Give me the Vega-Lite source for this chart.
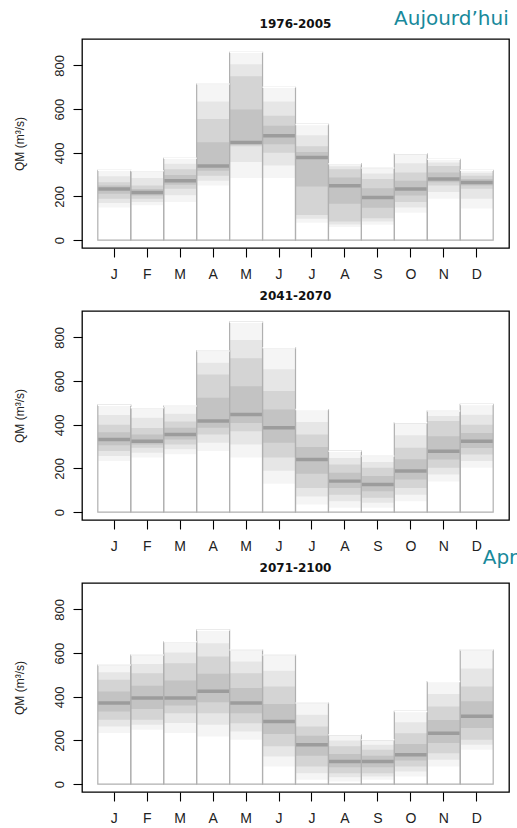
{
  "$schema": "https://vega.github.io/schema/vega-lite/v6.json",
  "padding": {"left": 12, "top": 8, "right": 0, "bottom": 0},
  "bounds": "flush",
  "spacing": 63,
  "datasets": {
    "qm": [
      {"period": "1976-2005", "month": "Jan", "lo": 150, "a1": 170, "q1": 190, "c1": 212, "m1": 226, "m2": 242, "c2": 250, "q3": 265, "a2": 292, "hi": 320},
      {"period": "1976-2005", "month": "Feb", "lo": 160, "a1": 175, "q1": 190, "c1": 204, "m1": 210, "m2": 226, "c2": 234, "q3": 250, "a2": 284, "hi": 318},
      {"period": "1976-2005", "month": "Mar", "lo": 175, "a1": 205, "q1": 235, "c1": 254, "m1": 264, "m2": 280, "c2": 298, "q3": 325, "a2": 350, "hi": 375},
      {"period": "1976-2005", "month": "Apr", "lo": 250, "a1": 272, "q1": 295, "c1": 318, "m1": 332, "m2": 348, "c2": 448, "q3": 555, "a2": 635, "hi": 715},
      {"period": "1976-2005", "month": "May", "lo": 285, "a1": 358, "q1": 430, "c1": 438, "m1": 439, "m2": 455, "c2": 598, "q3": 750, "a2": 805, "hi": 860},
      {"period": "1976-2005", "month": "Jun", "lo": 285, "a1": 342, "q1": 400, "c1": 439, "m1": 470, "m2": 486, "c2": 524, "q3": 570, "a2": 635, "hi": 700},
      {"period": "1976-2005", "month": "Jul", "lo": 80, "a1": 98, "q1": 115, "c1": 246, "m1": 370, "m2": 386, "c2": 404, "q3": 430, "a2": 480, "hi": 530},
      {"period": "1976-2005", "month": "Aug", "lo": 60, "a1": 72, "q1": 85, "c1": 167, "m1": 241, "m2": 257, "c2": 287, "q3": 325, "a2": 338, "hi": 350},
      {"period": "1976-2005", "month": "Sep", "lo": 70, "a1": 85, "q1": 100, "c1": 148, "m1": 187, "m2": 203, "c2": 238, "q3": 280, "a2": 305, "hi": 330},
      {"period": "1976-2005", "month": "Oct", "lo": 125, "a1": 150, "q1": 175, "c1": 204, "m1": 226, "m2": 242, "c2": 272, "q3": 310, "a2": 352, "hi": 395},
      {"period": "1976-2005", "month": "Nov", "lo": 190, "a1": 220, "q1": 250, "c1": 265, "m1": 272, "m2": 288, "c2": 310, "q3": 340, "a2": 355, "hi": 370},
      {"period": "1976-2005", "month": "Dec", "lo": 145, "a1": 190, "q1": 235, "c1": 250, "m1": 256, "m2": 272, "c2": 280, "q3": 295, "a2": 308, "hi": 320},
      {"period": "2041-2070", "month": "Jan", "lo": 234, "a1": 257, "q1": 280, "c1": 306, "m1": 325, "m2": 341, "c2": 366, "q3": 400, "a2": 445, "hi": 490},
      {"period": "2041-2070", "month": "Feb", "lo": 250, "a1": 272, "q1": 295, "c1": 310, "m1": 317, "m2": 333, "c2": 355, "q3": 385, "a2": 432, "hi": 478},
      {"period": "2041-2070", "month": "Mar", "lo": 265, "a1": 288, "q1": 310, "c1": 333, "m1": 348, "m2": 364, "c2": 386, "q3": 415, "a2": 450, "hi": 486},
      {"period": "2041-2070", "month": "Apr", "lo": 280, "a1": 318, "q1": 356, "c1": 386, "m1": 409, "m2": 425, "c2": 524, "q3": 630, "a2": 684, "hi": 738},
      {"period": "2041-2070", "month": "May", "lo": 250, "a1": 310, "q1": 370, "c1": 408, "m1": 439, "m2": 455, "c2": 576, "q3": 705, "a2": 788, "hi": 870},
      {"period": "2041-2070", "month": "Jun", "lo": 130, "a1": 190, "q1": 250, "c1": 318, "m1": 378, "m2": 394, "c2": 470, "q3": 555, "a2": 654, "hi": 753},
      {"period": "2041-2070", "month": "Jul", "lo": 35, "a1": 72, "q1": 110, "c1": 176, "m1": 233, "m2": 249, "c2": 298, "q3": 356, "a2": 413, "hi": 470},
      {"period": "2041-2070", "month": "Aug", "lo": 20, "a1": 50, "q1": 80, "c1": 111, "m1": 134, "m2": 150, "c2": 180, "q3": 218, "a2": 248, "hi": 279},
      {"period": "2041-2070", "month": "Sep", "lo": 20, "a1": 43, "q1": 66, "c1": 96, "m1": 119, "m2": 135, "c2": 165, "q3": 203, "a2": 230, "hi": 257},
      {"period": "2041-2070", "month": "Oct", "lo": 50, "a1": 80, "q1": 110, "c1": 149, "m1": 180, "m2": 196, "c2": 242, "q3": 295, "a2": 352, "hi": 409},
      {"period": "2041-2070", "month": "Nov", "lo": 140, "a1": 172, "q1": 203, "c1": 241, "m1": 271, "m2": 287, "c2": 348, "q3": 417, "a2": 440, "hi": 463},
      {"period": "2041-2070", "month": "Dec", "lo": 203, "a1": 234, "q1": 264, "c1": 294, "m1": 317, "m2": 333, "c2": 362, "q3": 400, "a2": 446, "hi": 493},
      {"period": "2071-2100", "month": "Jan", "lo": 234, "a1": 264, "q1": 295, "c1": 333, "m1": 363, "m2": 379, "c2": 424, "q3": 478, "a2": 512, "hi": 545},
      {"period": "2071-2100", "month": "Feb", "lo": 249, "a1": 272, "q1": 295, "c1": 344, "m1": 386, "m2": 402, "c2": 451, "q3": 508, "a2": 550, "hi": 591},
      {"period": "2071-2100", "month": "Mar", "lo": 234, "a1": 280, "q1": 325, "c1": 360, "m1": 386, "m2": 402, "c2": 474, "q3": 554, "a2": 603, "hi": 652},
      {"period": "2071-2100", "month": "Apr", "lo": 218, "a1": 272, "q1": 325, "c1": 375, "m1": 417, "m2": 433, "c2": 505, "q3": 585, "a2": 645, "hi": 705},
      {"period": "2071-2100", "month": "May", "lo": 203, "a1": 241, "q1": 279, "c1": 325, "m1": 363, "m2": 379, "c2": 440, "q3": 508, "a2": 561, "hi": 614},
      {"period": "2071-2100", "month": "Jun", "lo": 81, "a1": 127, "q1": 173, "c1": 230, "m1": 279, "m2": 295, "c2": 367, "q3": 447, "a2": 519, "hi": 591},
      {"period": "2071-2100", "month": "Jul", "lo": 20, "a1": 50, "q1": 81, "c1": 130, "m1": 172, "m2": 188, "c2": 222, "q3": 264, "a2": 318, "hi": 371},
      {"period": "2071-2100", "month": "Aug", "lo": 12, "a1": 31, "q1": 50, "c1": 77, "m1": 96, "m2": 112, "c2": 138, "q3": 173, "a2": 200, "hi": 226},
      {"period": "2071-2100", "month": "Sep", "lo": 20, "a1": 35, "q1": 50, "c1": 77, "m1": 96, "m2": 112, "c2": 130, "q3": 157, "a2": 180, "hi": 203},
      {"period": "2071-2100", "month": "Oct", "lo": 35, "a1": 58, "q1": 81, "c1": 108, "m1": 127, "m2": 143, "c2": 184, "q3": 233, "a2": 283, "hi": 333},
      {"period": "2071-2100", "month": "Nov", "lo": 81, "a1": 112, "q1": 142, "c1": 188, "m1": 225, "m2": 241, "c2": 294, "q3": 356, "a2": 413, "hi": 470},
      {"period": "2071-2100", "month": "Dec", "lo": 157, "a1": 180, "q1": 203, "c1": 257, "m1": 303, "m2": 319, "c2": 379, "q3": 447, "a2": 530, "hi": 614}
    ]
  },
  "vconcat": [
    {
      "title": {"text": "1976-2005", "offset": -22},
      "width": 427,
      "height": 209,
      "data": {"name": "qm"},
      "transform": [{"filter": "datum.period === '1976-2005'"}],
      "encoding": {
        "x": {"field": "month", "type": "ordinal", "sort": ["Jan","Feb","Mar","Apr","May","Jun","Jul","Aug","Sep","Oct","Nov","Dec"], "scale": {"paddingInner": 0, "paddingOuter": 0.48}, "axis": {"labelExpr": "substring(datum.label,0,1)", "title": null}}
      },
      "layer": [
        {"mark": {"type": "rect", "color": "#000", "opacity": 0.04}, "encoding": {"y": {"field": "lo", "type": "quantitative", "scale": {"domain": [-36, 921], "nice": false}, "axis": {"values": [0, 200, 400, 600, 800], "title": "QM (m³/s)"}}, "y2": {"field": "hi"}}},
        {"mark": {"type": "rect", "color": "#000", "opacity": 0.06}, "encoding": {"y": {"field": "a1", "type": "quantitative"}, "y2": {"field": "a2"}}},
        {"mark": {"type": "rect", "color": "#000", "opacity": 0.08}, "encoding": {"y": {"field": "q1", "type": "quantitative"}, "y2": {"field": "q3"}}},
        {"mark": {"type": "rect", "color": "#000", "opacity": 0.08}, "encoding": {"y": {"field": "c1", "type": "quantitative"}, "y2": {"field": "c2"}}},
        {"mark": {"type": "rect", "color": "#000", "opacity": 0.2}, "encoding": {"y": {"field": "m1", "type": "quantitative"}, "y2": {"field": "m2"}}},
        {"mark": {"type": "bar", "filled": false, "color": "#b0b0b0", "strokeWidth": 1.2}, "encoding": {"y": {"field": "hi", "type": "quantitative"}}},
        {"mark": {"type": "rect", "filled": false, "color": "#ffffff", "strokeWidth": 1.5}, "encoding": {"y": {"field": "hi", "type": "quantitative"}, "y2": {"field": "hi"}}},
        {"data": {"values": [{"note": "Aujourd’hui", "period": "1976-2005"}]}, "mark": {"type": "text", "font": "DejaVu Sans", "fontSize": 20, "color": "#17899b", "align": "right", "baseline": "alphabetic", "dx": 32}, "encoding": {"text": {"field": "note"}, "x": {"datum": "Dec", "type": "ordinal"}, "y": {"datum": 985, "type": "quantitative"}}}
      ]
    },
    {
      "title": "2041-2070",
      "width": 427,
      "height": 209,
      "data": {"name": "qm"},
      "transform": [{"filter": "datum.period === '2041-2070'"}],
      "encoding": {
        "x": {"field": "month", "type": "ordinal", "sort": ["Jan","Feb","Mar","Apr","May","Jun","Jul","Aug","Sep","Oct","Nov","Dec"], "scale": {"paddingInner": 0, "paddingOuter": 0.48}, "axis": {"labelExpr": "substring(datum.label,0,1)", "title": null}}
      },
      "layer": [
        {"mark": {"type": "rect", "color": "#000", "opacity": 0.04}, "encoding": {"y": {"field": "lo", "type": "quantitative", "scale": {"domain": [-36, 921], "nice": false}, "axis": {"values": [0, 200, 400, 600, 800], "title": "QM (m³/s)"}}, "y2": {"field": "hi"}}},
        {"mark": {"type": "rect", "color": "#000", "opacity": 0.06}, "encoding": {"y": {"field": "a1", "type": "quantitative"}, "y2": {"field": "a2"}}},
        {"mark": {"type": "rect", "color": "#000", "opacity": 0.08}, "encoding": {"y": {"field": "q1", "type": "quantitative"}, "y2": {"field": "q3"}}},
        {"mark": {"type": "rect", "color": "#000", "opacity": 0.08}, "encoding": {"y": {"field": "c1", "type": "quantitative"}, "y2": {"field": "c2"}}},
        {"mark": {"type": "rect", "color": "#000", "opacity": 0.2}, "encoding": {"y": {"field": "m1", "type": "quantitative"}, "y2": {"field": "m2"}}},
        {"mark": {"type": "bar", "filled": false, "color": "#b0b0b0", "strokeWidth": 1.2}, "encoding": {"y": {"field": "hi", "type": "quantitative"}}},
        {"mark": {"type": "rect", "filled": false, "color": "#ffffff", "strokeWidth": 1.5}, "encoding": {"y": {"field": "hi", "type": "quantitative"}, "y2": {"field": "hi"}}},
        {"data": {"values": [{"note": "Après", "period": "2041-2070"}]}, "mark": {"type": "text", "font": "DejaVu Sans", "fontSize": 20, "color": "#17899b", "align": "left", "baseline": "alphabetic", "dx": 6}, "encoding": {"text": {"field": "note"}, "x": {"datum": "Dec", "type": "ordinal"}, "y": {"datum": -238, "type": "quantitative"}}}
      ]
    },
    {
      "title": "2071-2100",
      "width": 427,
      "height": 209,
      "data": {"name": "qm"},
      "transform": [{"filter": "datum.period === '2071-2100'"}],
      "encoding": {
        "x": {"field": "month", "type": "ordinal", "sort": ["Jan","Feb","Mar","Apr","May","Jun","Jul","Aug","Sep","Oct","Nov","Dec"], "scale": {"paddingInner": 0, "paddingOuter": 0.48}, "axis": {"labelExpr": "substring(datum.label,0,1)", "title": null}}
      },
      "layer": [
        {"mark": {"type": "rect", "color": "#000", "opacity": 0.04}, "encoding": {"y": {"field": "lo", "type": "quantitative", "scale": {"domain": [-36, 921], "nice": false}, "axis": {"values": [0, 200, 400, 600, 800], "title": "QM (m³/s)"}}, "y2": {"field": "hi"}}},
        {"mark": {"type": "rect", "color": "#000", "opacity": 0.06}, "encoding": {"y": {"field": "a1", "type": "quantitative"}, "y2": {"field": "a2"}}},
        {"mark": {"type": "rect", "color": "#000", "opacity": 0.08}, "encoding": {"y": {"field": "q1", "type": "quantitative"}, "y2": {"field": "q3"}}},
        {"mark": {"type": "rect", "color": "#000", "opacity": 0.08}, "encoding": {"y": {"field": "c1", "type": "quantitative"}, "y2": {"field": "c2"}}},
        {"mark": {"type": "rect", "color": "#000", "opacity": 0.2}, "encoding": {"y": {"field": "m1", "type": "quantitative"}, "y2": {"field": "m2"}}},
        {"mark": {"type": "bar", "filled": false, "color": "#b0b0b0", "strokeWidth": 1.2}, "encoding": {"y": {"field": "hi", "type": "quantitative"}}},
        {"mark": {"type": "rect", "filled": false, "color": "#ffffff", "strokeWidth": 1.5}, "encoding": {"y": {"field": "hi", "type": "quantitative"}, "y2": {"field": "hi"}}}
      ]
    }
  ],
  "config": {
    "background": "white",
    "view": {"stroke": "#000", "strokeWidth": 1.3},
    "axis": {"domain": false, "grid": false, "tickColor": "#000", "tickSize": 9, "tickWidth": 1.1, "labelFont": "Liberation Sans", "labelColor": "#222", "titleFont": "Liberation Sans", "titleFontWeight": "normal", "titleColor": "#222"},
    "axisX": {"labelFontSize": 14, "labelPadding": 10, "labelAngle": 0},
    "axisY": {"labelFontSize": 13, "labelAngle": -90, "labelAlign": "center", "labelBaseline": "bottom", "labelPadding": 7, "titleFontSize": 12, "titlePadding": 27},
    "title": {"font": "DejaVu Sans", "fontSize": 12, "fontWeight": "bold", "offset": 8, "color": "#111", "anchor": "middle"}
  }
}
